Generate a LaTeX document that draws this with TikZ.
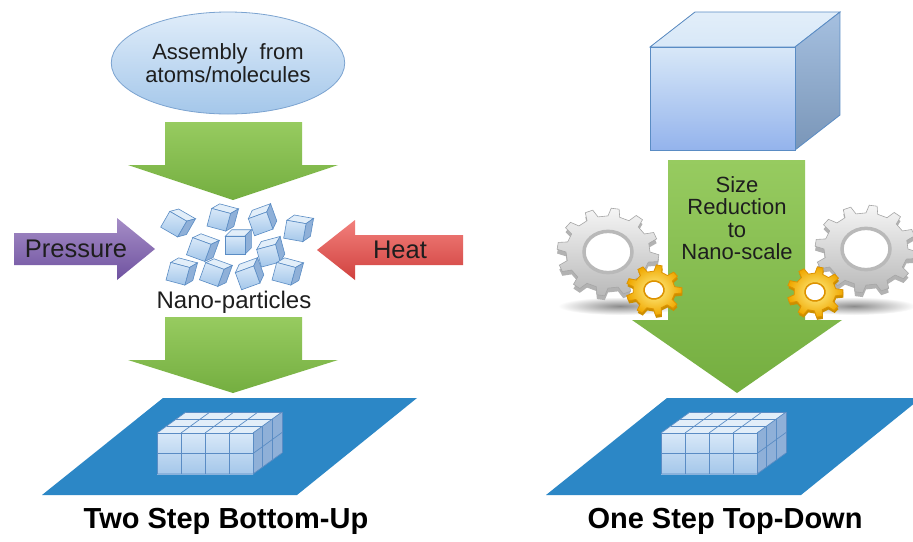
\documentclass[tikz,border=0pt]{standalone}
\usepackage{fontspec}
\setmainfont{Liberation Sans}
\usetikzlibrary{shapes.geometric}
\definecolor{arrowtop}{HTML}{97CB60}
\definecolor{arrowbot}{HTML}{74AE40}
\definecolor{purpletop}{HTML}{A58DC6}
\definecolor{purplebot}{HTML}{6F52A0}
\definecolor{redtop}{HTML}{F2807C}
\definecolor{redbot}{HTML}{D0413E}
\definecolor{plate}{HTML}{2C87C6}
\definecolor{edgeblue}{HTML}{5A8CC4}
\definecolor{facetop}{HTML}{D8E8F8}
\definecolor{facebot}{HTML}{A4C7EA}
\definecolor{lidtop}{HTML}{E2EEF9}
\definecolor{sidedark}{HTML}{8FB0D8}
\definecolor{goldtop}{HTML}{FFF08A}
\definecolor{goldbot}{HTML}{F0A800}
\definecolor{goldedge}{HTML}{DD9200}
\definecolor{inktext}{HTML}{1E1E1E}

% gear outline: #1 teeth, #2 angle step, #3 root radius, #4 tip radius
\newcommand{\cogpath}[4]{%
  (0:#3) \foreach \k in {1,...,#1} {
    -- ({(\k-1)*#2+0.12*#2}:#4) -- ({(\k-1)*#2+0.42*#2}:#4)
    -- ({(\k-1)*#2+0.54*#2}:#3) -- ({\k*#2}:#3)
  } -- cycle}

% silver gear centred at (#1,#2)
\newcommand{\silvergear}[2]{%
  \begin{scope}[shift={(#1,#2)}, yscale=0.86]
    \fill[gray!60, even odd rule, yshift=-5pt] \cogpath{12}{30}{42}{51} (0,0) circle[radius=24];
    \shade[top color=gray!8, bottom color=gray!55, even odd rule, draw=gray!70, line width=0.6]
      \cogpath{12}{30}{42}{51} (0,0) circle[radius=24];
    \draw[gray!55, line width=3.5, fill=white] (0,0) circle[radius=24];
  \end{scope}}

% gold gear centred at (#1,#2)
\newcommand{\goldgear}[2]{%
  \begin{scope}[shift={(#1,#2)}, yscale=0.9, rotate=10]
    \fill[goldbot!85!black, even odd rule, yshift=-3pt] \cogpath{9}{40}{21}{28} (0,0) circle[radius=10];
    \shade[inner color=goldtop, outer color=goldbot, even odd rule, draw=goldedge, line width=0.8]
      \cogpath{9}{40}{21}{28} (0,0) circle[radius=10];
    \draw[goldedge, line width=1.5, fill=white] (0,0) circle[radius=10];
  \end{scope}}

% small loose cube centred at (#1,#2), turned by #3
\newcommand{\nanocube}[3]{%
  \begin{scope}[shift={(#1,#2)}, rotate=#3, scale=1.3]
    \fill[lidtop, draw=edgeblue, line width=0.6] (-9,-6) -- (6,-6) -- (11,-11) -- (-4,-11) -- cycle;
    \fill[sidedark, draw=edgeblue, line width=0.6] (6,-6) -- (11,-11) -- (11,3) -- (6,8) -- cycle;
    \shade[top color=facetop, bottom color=facebot, draw=edgeblue, line width=0.6] (-9,-6) rectangle (6,8);
  \end{scope}}

% stack of 4 x 3 x 2 cubes, front face top-left corner at (#1,#2)
\newcommand{\cubestack}[2]{%
  \begin{scope}[shift={(#1,#2)}]
    \fill[lidtop] (0,0) -- (96,0) -- (125,-21) -- (29,-21) -- cycle;
    \fill[sidedark] (96,0) -- (125,-21) -- (125,20) -- (96,41) -- cycle;
    \shade[top color=facetop, bottom color=facebot] (0,0) rectangle (96,41);
    \begin{scope}[draw=edgeblue, line width=0.7]
      \foreach \i in {0,24,48,72,96} {
        \draw (\i,0) -- (\i,41);
        \draw (\i,0) -- ++(29,-21);
      }
      \foreach \j in {0,1,2,3} {
        \draw ({\j*29/3},{-\j*7}) -- ++(96,0);
        \draw ({96+\j*29/3},{-\j*7}) -- ++(0,41);
      }
      \draw (0,20.5) -- (96,20.5) -- ++(29,-21);
      \draw (0,41) -- (96,41) -- (125,20);
    \end{scope}
  \end{scope}}

\tikzset{
  label24/.style={font=\fontsize{24}{26}\selectfont, text=inktext, inner sep=0pt},
  label25/.style={font=\fontsize{25.5}{27}\selectfont, text=inktext, inner sep=0pt},
  label22/.style={font=\fontsize{22}{22.5}\selectfont, text=inktext, inner sep=0pt, align=center},
  caption/.style={font=\fontsize{29}{32}\selectfont\bfseries, text=black, inner sep=0pt},
  greenarrow/.style={top color=arrowtop, bottom color=arrowbot},
}

\begin{document}
\begin{tikzpicture}[x=1pt, y=-1pt]
\useasboundingbox (0,0) rectangle (913,541);
\fill[white] (0,0) rectangle (913,541);

% ---------------- bottom-up route ----------------
\node[ellipse, minimum width=220, minimum height=102, draw=edgeblue!80, line width=0.8,
      top color=facetop!80!white, bottom color=facebot, label22] (assembly) at (228,63)
      {Assembly\hspace{12pt}from\\atoms/molecules};

\shade[greenarrow] (165,122) -- (302,122) -- (302,165) -- (338,165) -- (233,200)
  -- (128,165) -- (165,165) -- cycle;

\shade[top color=purpletop, bottom color=purplebot]
  (14,233) -- (117,233) -- (117,218) -- (155,249) -- (117,280) -- (117,265) -- (14,265) -- cycle;
\node[label25] (pressure) at (76,249) {Pressure};

\shade[top color=redtop, bottom color=redbot]
  (463,235) -- (355,235) -- (355,220) -- (317,250) -- (355,280) -- (355,265) -- (463,265) -- cycle;
\node[label25] (heat) at (400,250) {Heat};

\nanocube{176}{224}{-30}
\nanocube{221}{219}{-15}
\nanocube{262}{222}{20}
\nanocube{297}{230}{-10}
\nanocube{201}{249}{-20}
\nanocube{237}{244}{0}
\nanocube{270}{254}{15}
\nanocube{180}{273}{-15}
\nanocube{214}{274}{-20}
\nanocube{249}{276}{20}
\nanocube{286}{273}{-15}

\node[label24] (nano) at (234,302) {Nano-particles};

\shade[greenarrow] (165,317) -- (302,317) -- (302,360) -- (338,360) -- (233,393)
  -- (128,360) -- (165,360) -- cycle;

\fill[plate] (42,495) -- (297,495) -- (417,398) -- (163,398) -- cycle;
\cubestack{157}{433}

\node[caption] (bottomup) at (226,521) {Two Step Bottom-Up};

% ---------------- top-down route ----------------
\fill[top color=lidtop, bottom color=facetop, draw=edgeblue, line width=0.8]
  (650,47) -- (795,47) -- (840,12) -- (695,12) -- cycle;
\shade[top color=sidedark!80!white, bottom color=sidedark!85!black, draw=edgeblue, line width=0.8]
  (795,47) -- (840,12) -- (840,115) -- (795,150) -- cycle;
\shade[top color=facetop, bottom color=facebot!90!blue, draw=edgeblue, line width=0.8]
  (650,47) rectangle (795,150);

\shade[inner color=black!45, outer color=white] (620,306) ellipse[x radius=62, y radius=9];
\shade[inner color=black!45, outer color=white] (854,306) ellipse[x radius=62, y radius=9];

\shade[greenarrow] (668,160) -- (805,160) -- (805,320) -- (842,320) -- (737,393)
  -- (632,320) -- (668,320) -- cycle;

\silvergear{608}{252}
\goldgear{654}{290}
\silvergear{866}{249}
\goldgear{815}{292}

\node[label22] (reduction) at (737,218) {Size\\Reduction\\to\\Nano-scale};

\fill[plate] (546,495) -- (801,495) -- (921,398) -- (667,398) -- cycle;
\cubestack{661}{433}

\node[caption] (topdown) at (725,521) {One Step Top-Down};
\end{tikzpicture}
\end{document}
